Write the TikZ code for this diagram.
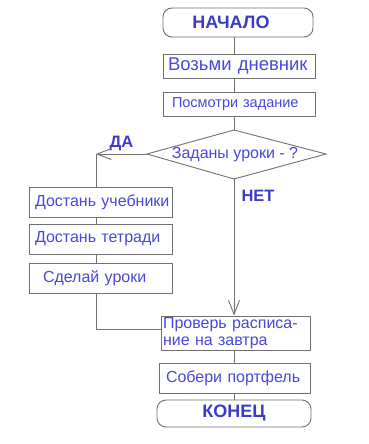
\documentclass[tikz,border=0pt]{standalone}
\usepackage{fontspec}
\setmainfont{Liberation Sans}
\usetikzlibrary{arrows.meta}
\definecolor{linec}{RGB}{112,112,112}
\definecolor{txt}{RGB}{72,72,220}
\definecolor{txtb}{RGB}{60,60,200}
\begin{document}
\begin{tikzpicture}[x=1pt,y=-1pt,
  pbox/.style={draw=linec, line width=0.9pt, text=txt, align=left, inner ysep=0pt,
    font=\fontsize{16}{17}\selectfont},
  term/.style={draw=linec, line width=0.9pt, rounded corners=9pt, text=txtb,
    font=\fontsize{18}{20}\selectfont\bfseries, inner sep=0pt},
  dtext/.style={inner sep=0pt, text=txt, font=\fontsize{16}{17}\selectfont},
  lbl/.style={text=txtb, font=\fontsize{16.5}{18}\selectfont\bfseries, inner sep=0pt},
  conn/.style={draw=linec, line width=0.9pt},
  arr/.style={conn, -{Straight Barb[length=14pt,width=11pt,line width=0.9pt]}}
]
\useasboundingbox (0,0) rectangle (369,444);
\fill[white] (0,0) rectangle (369,444);

\coordinate (sp) at (234,0);
\coordinate (sl) at (96,0);

\node[term, minimum width=150pt, minimum height=29pt] (start) at (238,22.5) {\hspace*{-14pt}НАЧАЛО};
\node[pbox, minimum height=24pt, inner xsep=5pt, text width=142pt,
  font=\fontsize{18.5}{20}\selectfont] (b1) at (239,66) {\mbox{Возьми дневник}};
\node[pbox, minimum height=24pt, inner xsep=9pt, text width=134pt,
  font=\fontsize{14.5}{16}\selectfont] (b2) at (239,104) {\mbox{Посмотри задание}};

% decision diamond
\coordinate (dt) at (234,130);
\coordinate (dl) at (147,154);
\coordinate (dr) at (326,154);
\coordinate (db) at (234,179);
\draw[conn] (dt) -- (dr) -- (db) -- (dl) -- cycle;
\node[dtext] (dia) at (235,154.5) {Заданы уроки - ?};

\coordinate (cda) at (96,154);
\node[pbox, minimum height=30pt, inner xsep=6pt, text width=131pt] (b3) at (100.5,202) {\mbox{Достань учебники}};
\node[pbox, minimum height=30pt, inner xsep=6pt, text width=131pt] (b4) at (100.5,239) {\mbox{Достань тетради}};
\node[pbox, minimum height=30pt, inner xsep=14pt, text width=115pt] (b5) at (100.5,278) {\mbox{Сделай уроки}};

\node[pbox, minimum height=34pt, inner xsep=2pt, text width=145pt] (b6) at (235.5,333) {Проверь расписа-\\ние на завтра};
\node[pbox, minimum height=30pt, inner xsep=7pt, text width=137pt] (b7) at (234.5,378) {\mbox{Собери портфель}};
\node[term, minimum width=154pt, minimum height=27pt] (fin) at (234,413.5) {КОНЕЦ};

\coordinate (j) at (161,329);

\node[lbl] (da) at (121.5,143.5) {ДА};
\node[lbl] (net) at (258,196) {НЕТ};

\draw[conn] (start.south -| sp) -- (b1.north -| sp);
\draw[conn] (b1.south -| sp) -- (b2.north -| sp);
\draw[conn] (b2.south -| sp) -- (dt);
\draw[arr] (dl) -- (cda);
\draw[conn] (cda) -- (b3.north -| cda);
\draw[conn] (b3.south -| sl) -- (b4.north -| sl);
\draw[conn] (b4.south -| sl) -- (b5.north -| sl);
\draw[conn] (b5.south -| sl) |- (j);
\draw[arr] (db) -- (b6.north -| sp);
\draw[conn] (b6.south -| sp) -- (b7.north -| sp);
\draw[conn] (b7.south -| sp) -- (fin.north -| sp);
\end{tikzpicture}
\end{document}
